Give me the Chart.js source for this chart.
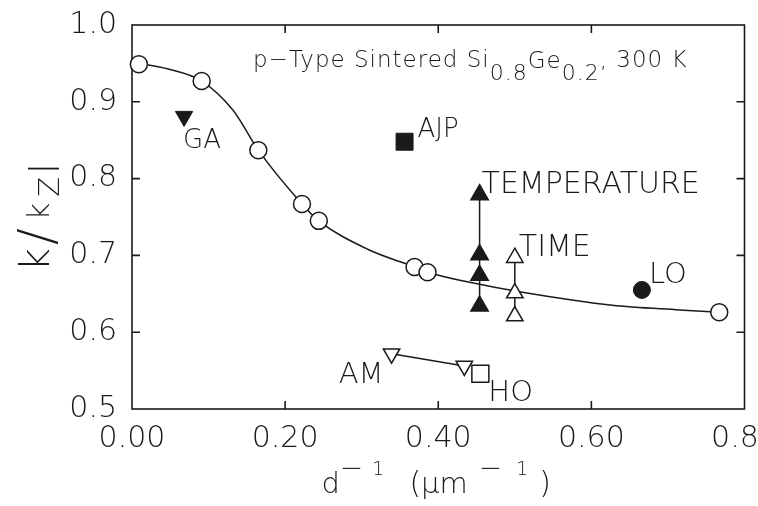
<!DOCTYPE html>
<html>
<head>
<meta charset="utf-8">
<script src="https://cdn.jsdelivr.net/npm/chart.js@4.4.1/dist/chart.umd.min.js"></script>
<style>
  html, body { margin: 0; padding: 0; background: #fff; }
</style>
</head>
<body>
<canvas id="kappa" width="758" height="506" aria-label="k/kZl versus inverse grain size"></canvas>
<script>
// values
const curveX = [0.009, 0.046, 0.091, 0.132, 0.165, 0.222, 0.244, 0.310, 0.369, 0.386, 0.441, 0.510, 0.627, 0.715, 0.767];
const curveY = [0.950, 0.943, 0.927, 0.889, 0.837, 0.767, 0.745, 0.707, 0.685, 0.678, 0.665, 0.652, 0.635, 0.629, 0.626];
const sinterX = [0.009, 0.091, 0.165, 0.222, 0.244, 0.369, 0.386, 0.767];
const sinterY = [0.949, 0.927, 0.837, 0.767, 0.745, 0.685, 0.678, 0.626];
const gaX = [0.068], gaY = [0.881];
const ajpX = [0.356], ajpY = [0.848];
const tempX = [0.454, 0.454, 0.454, 0.454];
const tempY = [0.779, 0.701, 0.674, 0.634];
const timeX = [0.500, 0.500, 0.500];
const timeY = [0.697, 0.651, 0.621];
const loX = [0.666], loY = [0.655];
const amX = [0.339, 0.434], amY = [0.572, 0.556];
const hoX = [0.455], hoY = [0.546];

const xTicks = [0.0, 0.2, 0.4, 0.6, 0.8];
const yTicks = [0.5, 0.6, 0.7, 0.8, 0.9, 1.0];

const ink = '#1a1a1a';
const FONT = '"DejaVu Sans", "Liberation Sans", sans-serif';
const pts = (xs, ys) => xs.map((x, i) => ({x: x, y: ys[i]}));

// text labels next to markers: dataset index, point index, offset, alignment
const markLabels = [
  {text: 'GA', ds: 1, i: 0, dx: -1, dy: 32, size: 26, align: 'left'},
  {text: 'AJP', ds: 2, i: 0, dx: 13, dy: -5, size: 26, align: 'left'},
  {text: 'TEMPERATURE', ds: 3, i: 0, dx: 2, dy: -2, size: 30, align: 'left'},
  {text: 'TIME', ds: 4, i: 0, dx: 4, dy: -2, size: 30, align: 'left'},
  {text: 'LO', ds: 5, i: 0, dx: 7, dy: -7, size: 29, align: 'left'},
  {text: 'AM', ds: 6, i: 0, dx: -8, dy: 29, size: 29, align: 'right'},
  {text: 'HO', ds: 7, i: 0, dx: 8, dy: 27, size: 29, align: 'left'},
];

function richWidth(ctx, parts) {
  let w = 0;
  parts.forEach(p => {
    ctx.font = `200 ${p.s}px ${FONT}`;
    w += ctx.measureText(p.t).width + (p.g || 0);
  });
  return w;
}

function drawRich(ctx, parts, x, y) {
  parts.forEach(p => {
    ctx.font = `200 ${p.s}px ${FONT}`;
    ctx.fillText(p.t, x, y + (p.dy || 0));
    x += ctx.measureText(p.t).width + (p.g || 0);
  });
}

const frameAndTicks = {
  id: 'frameAndTicks',
  beforeDatasetsDraw(chart) {
    const {ctx, chartArea: a, scales: {x, y}} = chart;
    const len = 8;
    ctx.save();
    ctx.strokeStyle = ink;
    ctx.lineWidth = 1.6;
    ctx.strokeRect(a.left, a.top, a.right - a.left, a.bottom - a.top);
    ctx.beginPath();
    x.ticks.forEach(t => {
      if (t.value <= x.min + 1e-6 || t.value >= x.max - 1e-6) return;
      const px = x.getPixelForValue(t.value);
      ctx.moveTo(px, a.bottom); ctx.lineTo(px, a.bottom - len);
      ctx.moveTo(px, a.top); ctx.lineTo(px, a.top + len);
    });
    y.ticks.forEach(t => {
      if (t.value <= y.min + 1e-6 || t.value >= y.max - 1e-6) return;
      const py = y.getPixelForValue(t.value);
      ctx.moveTo(a.left, py); ctx.lineTo(a.left + len, py);
      ctx.moveTo(a.right, py); ctx.lineTo(a.right - len, py);
    });
    ctx.stroke();
    ctx.restore();
  },
  afterDatasetsDraw(chart) {
    const {ctx, chartArea: a} = chart;
    ctx.save();
    ctx.fillStyle = ink;
    ctx.textBaseline = 'alphabetic';

    // in-plot title
    ctx.letterSpacing = '1px';
    drawRich(ctx, [
      {t: 'p\u2212Type Sintered Si', s: 23},
      {t: '0.8', s: 22, dy: 13},
      {t: 'Ge', s: 23, dy: 1},
      {t: '0.2', s: 22, dy: 13},
      {t: ', 300 K', s: 23},
    ], a.left + 121, a.top + 42);
    ctx.letterSpacing = '0px';

    // marker labels
    markLabels.forEach(l => {
      const el = chart.getDatasetMeta(l.ds).data[l.i];
      ctx.font = `200 ${l.size}px ${FONT}`;
      ctx.textAlign = l.align;
      ctx.fillText(l.text, el.x + l.dx, el.y + l.dy);
    });
    ctx.textAlign = 'left';

    // x axis title
    const xt = [
      {t: 'd', s: 29},
      {t: '\u2212', s: 28, dy: -16, g: 9},
      {t: '1', s: 19, dy: -18, g: 25},
      {t: '(', s: 30},
      {t: '\u03bcm', s: 29, g: 11},
      {t: '\u2212', s: 28, dy: -16, g: 14},
      {t: '1', s: 19, dy: -18, g: 11},
      {t: ')', s: 30},
    ];
    const cx = (a.left + a.right) / 2;
    drawRich(ctx, xt, cx - 2 - richWidth(ctx, xt) / 2, 493);

    // y axis title, rotated
    const yt = [
      {t: 'k', s: 40, g: 3},
      {t: '/', s: 50, dy: 4, g: 8},
      {t: 'k', s: 30, g: 6},
      {t: 'Z', s: 29, dy: 10, g: 3},
      {t: 'l', s: 40, dy: 10},
    ];
    ctx.translate(49, (a.top + a.bottom) / 2);
    ctx.rotate(-Math.PI / 2);
    drawRich(ctx, yt, -richWidth(ctx, yt) / 2, 0);
    ctx.restore();
  }
};

const ctx = document.getElementById('kappa');

new Chart(ctx, {
  type: 'scatter',
  data: {
    datasets: [
      {
        label: 'sintered',
        data: pts(sinterX, sinterY),
        pointStyle: 'circle',
        pointRadius: 8.5,
        backgroundColor: '#fff',
        borderColor: ink,
        borderWidth: 1.5,
      },
      {
        label: 'GA',
        data: pts(gaX, gaY),
        pointStyle: 'triangle',
        rotation: 180,
        pointRadius: 10,
        backgroundColor: ink,
        borderColor: ink,
        borderWidth: 1,
      },
      {
        label: 'AJP',
        data: pts(ajpX, ajpY),
        pointStyle: 'rect',
        pointRadius: 12,
        backgroundColor: ink,
        borderColor: ink,
        borderWidth: 1,
      },
      {
        label: 'TEMPERATURE',
        data: pts(tempX, tempY),
        showLine: true,
        pointStyle: 'triangle',
        pointRadius: 10,
        backgroundColor: ink,
        borderColor: ink,
        borderWidth: 1.5,
      },
      {
        label: 'TIME',
        data: pts(timeX, timeY),
        showLine: true,
        pointStyle: 'triangle',
        pointRadius: 9.5,
        pointBackgroundColor: '#fff',
        backgroundColor: '#fff',
        borderColor: ink,
        borderWidth: 1.5,
      },
      {
        label: 'LO',
        data: pts(loX, loY),
        pointStyle: 'circle',
        pointRadius: 8.5,
        backgroundColor: ink,
        borderColor: ink,
        borderWidth: 1,
      },
      {
        label: 'AM',
        data: pts(amX, amY),
        showLine: true,
        pointStyle: 'triangle',
        rotation: 180,
        pointRadius: 9.5,
        pointBackgroundColor: '#fff',
        backgroundColor: '#fff',
        borderColor: ink,
        borderWidth: 1.5,
      },
      {
        label: 'HO',
        data: pts(hoX, hoY),
        pointStyle: 'rect',
        pointRadius: 12,
        backgroundColor: '#fff',
        borderColor: ink,
        borderWidth: 1.5,
      },
      {
        label: 'fit',
        data: pts(curveX, curveY),
        showLine: true,
        cubicInterpolationMode: 'monotone',
        pointRadius: 0,
        borderColor: ink,
        borderWidth: 1.5,
        order: 10,
      },
    ]
  },
  options: {
    responsive: false,
    animation: false,
    clip: false,
    layout: {
      padding: {top: 25, right: 13, left: 0, bottom: 0}
    },
    plugins: {
      legend: {display: false},
      tooltip: {enabled: false},
      title: {display: false},
    },
    scales: {
      x: {
        type: 'linear',
        min: 0,
        max: 0.8,
        afterBuildTicks: s => { s.ticks = xTicks.map(v => ({value: v})); },
        afterFit: s => { s.height = 97; s.paddingLeft = 0; s.paddingRight = 0; },
        grid: {display: false, drawTicks: false},
        border: {display: false},
        ticks: {
          padding: 12,
          color: ink,
          font: {family: FONT, size: 30, weight: 200},
          callback: v => v.toFixed(2),
        },
      },
      y: {
        min: 0.5,
        max: 1.0,
        afterBuildTicks: s => { s.ticks = yTicks.map(v => ({value: v})); },
        afterFit: s => { s.width = 132; s.paddingTop = 0; s.paddingBottom = 0; },
        grid: {display: false, drawTicks: false},
        border: {display: false},
        ticks: {
          padding: 15,
          color: ink,
          font: {family: FONT, size: 30, weight: 200},
          callback: v => v.toFixed(1),
        },
      },
    },
  },
  plugins: [frameAndTicks],
});
</script>
</body>
</html>
